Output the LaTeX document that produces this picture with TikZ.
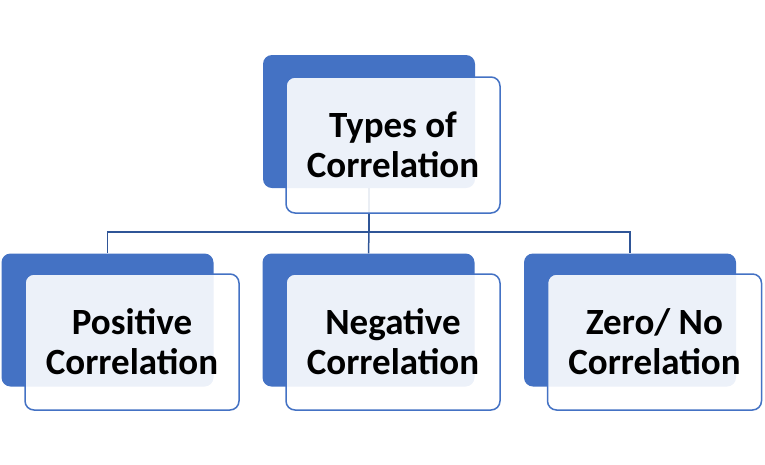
\documentclass[tikz,border=0pt]{standalone}
\usepackage{fontspec}
\setmainfont{Carlito}
\definecolor{cblue}{HTML}{4472C4}
\definecolor{cline}{HTML}{2F5597}
\begin{document}
\begin{tikzpicture}[x=1pt, y=-1pt, every node/.style={font=\fontsize{37}{40}\selectfont\bfseries},
  back/.style={fill=cblue,rounded corners=9pt,minimum width=212pt,minimum height=133pt,inner sep=0pt},
  front/.style={draw=cblue,line width=1.5pt,fill=white,fill opacity=0.9,text opacity=1,rounded corners=9pt,minimum width=214pt,minimum height=136pt,align=center,inner sep=0pt}]
\useasboundingbox (0,0) rectangle (765,464);
% back boxes
\node[back] (tb) at (369,121.5) {};
\node[back] (lb) at (107.5,320) {};
\node[back] (mb) at (368.5,320) {};
\node[back] (rb) at (630,320) {};
% connectors
\coordinate (bus) at (369,232);
\draw[cline,line width=1.5pt] (tb.south) -- (bus);
\draw[cline,line width=1.5pt] (lb.north) |- (bus) -| (rb.north);
\draw[cline,line width=1.5pt] (bus) -- (mb.north);
% front boxes
\node[front] (types) at (393,145) {Types of\\Correlation};
\node[front] (pos) at (132,342) {Positive\\Correlation};
\node[front] (neg) at (393,342) {Negative\\Correlation};
\node[front] (zero) at (654.5,342) {Zero/ No\\Correlation};
\end{tikzpicture}
\end{document}
